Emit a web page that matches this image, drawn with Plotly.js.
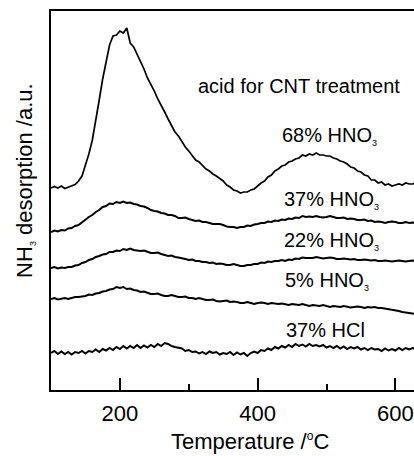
<!DOCTYPE html>
<html>
<head>
<meta charset="utf-8">
<script src="https://cdn.plot.ly/plotly-3.0.1.min.js"></script>
<style>
  html, body { margin: 0; padding: 0; background: #fff; }
  #chart { width: 414px; height: 456px; }
</style>
</head>
<body>
<div id="chart"></div>
<script>
// Temperature (°C)
const temperature = [
  100,105,110,115,120,125,130,135,140,145,
  150,155,160,165,170,175,180,185,190,195,
  200,205,210,215,220,225,230,235,240,245,
  250,255,260,265,270,275,280,285,290,295,
  300,305,310,315,320,325,330,335,340,345,
  350,355,360,365,370,375,380,385,390,395,
  400,405,410,415,420,425,430,435,440,445,
  450,455,460,465,470,475,480,485,490,495,
  500,505,510,515,520,525,530,535,540,545,
  550,555,560,565,570,575,580,585,590,595,
  600,605,610,615,620,625,630
];

// NH3 desorption signal (a.u., curves offset vertically as in the figure)
const hno3_68 = [
  202,203.5,202,204,201.5,203,204,205.5,209,214,
  225,236,250,268,290,311,330,345,354,355,
  359,357,362,347,343,336,328,321,312,306,
  299,291,285,278,271,264,258,254,248,243,
  239,235,230,228,224,221,219,216,214,211,
  209,205,203,200,199,197,198,198,200,201,
  204,207,209,213,215,219,221,224,225,228,
  229,231,232,235,234,236,235,237,235,235,
  234,234,232,231,229,228,226,223,222,219,
  218,215,214,210,210,207,208,205,206,204,
  205,206,205,207,206,206,207
];
const hno3_37 = [
  158,159.5,158.5,160,159.5,161.5,162,164,165,168,
  170,173,175,178,180,183,184,186.5,186,188,
  187,188.5,187,187.5,186,185.5,184,183.5,182,180,
  179,178.5,177,176.5,175,175,174,172,172,172.5,
  171,170,169,169.5,168,168,167,166,166,166,
  165,163.5,163,163,162,163,163,164.5,164,165.5,
  166,167,167,168.5,168,169.5,169,170.5,170,171.5,
  171,172.5,172,174,173,173.5,173,174,173,172.5,
  173,174,173,172,172,172.5,171,171.5,171,170,
  170,170.5,169,169.5,168,168.5,168,167,168,168.5,
  168,167,167,168,167,167.5,167
];
const hno3_22 = [
  122,123,121.5,122.5,122,123,123,124.5,125,127,
  128,130,131,133,134,135.5,136,138,138,139.5,
  139,141,140,141.5,140,139.5,139,139.5,138,137,
  137,137.5,136,135,134,134.5,133,132.5,132,131,
  130,130.5,129,129,128,128,127,127.5,126,126.5,
  126,125,125,126,125,124,124,125,125,126,
  126,127.5,127,128.5,128,129,129,130,129,130.5,
  130,131.5,131,132.5,132,132,132,133,132,131.5,
  132,132.5,132,131,131,131.5,131,130.5,131,130,
  130,130.5,130,129.5,130,129,129,129.5,129,128.5,
  129,129.5,129,128.5,129,129.5,129
];
const hno3_5 = [
  91,92,90.5,91.5,92,91,92,93,93,93.5,
  94,95.5,95,96.5,97,98.5,99,100.5,101,103,
  102,103,101,101.5,100,99.5,98,98.5,97,96,
  96,96.5,95,94,94,95,94,93,93,93.5,
  92,92,91,92,91,90,90,90.5,89,88.5,
  89,89.5,88,88.5,88,87,87,88,87,86,
  87,87.5,87,86,87,86.5,86,86.5,86,85,
  86,85.5,85,86,85,84,85,84.5,84,85,
  84,83,84,83.5,83,84,83,82.5,83,83.5,
  83,82,83,82.5,83,82,82,81.5,81,80,
  80,79,78,77.5,77,76.5,76
];
const hcl_37 = [
  37,39,36,38.5,36,38,35.5,38,37,39,
  36.5,39,38,40.5,38,41,39.5,42,40,43,
  41,44,41.5,44,42,45,42,44.5,42.5,45,
  43,46,44,47,46,44,43,42,41.5,39,
  40,38,38.5,36.5,38,36,38.5,37,38,35.5,
  37,36,38,35,37.5,35.5,37,34,37,38.5,
  37,40,39,41.5,40,43,41.5,44,42.5,45,
  43,46,44,45.5,43.5,46,44,45,43.5,45,
  42.5,44,42,44,41.5,43.5,41,43,41.5,43,
  40.5,42,40,42,40.5,41,39,41.5,39.5,41,
  39.5,42,40,42,40.5,42,41
];

const seriesNames = ["68% HNO3", "37% HNO3", "22% HNO3", "5% HNO3", "37% HCl"];
const seriesData = [hno3_68, hno3_37, hno3_22, hno3_5, hcl_37];
const xTickVals = [200, 400, 600];
const xTickText = ["200", "400", "600"];
const xMinorVals = [300, 500];

const FONT = "'Liberation Sans', Arial, Helvetica, sans-serif";
const SUB = (s) => '<sub><span style="font-size:9px">' + s + '</span></sub>';

const traces = seriesData.map((y, i) => ({
  x: temperature,
  y: y,
  name: seriesNames[i],
  type: 'scatter',
  mode: 'lines',
  line: { color: '#000', width: i === 0 ? 1.7 : 2.0 },
  hoverinfo: 'skip'
}));

const labelStyle = { family: FONT, size: 20, color: '#000' };
const annotations = [
  { text: 'acid for CNT treatment', x: 0.682, y: 0.802, xanchor: 'center' },
  { text: '68% HNO' + SUB('3'), x: 0.630, y: 0.670, xanchor: 'left' },
  { text: '37% HNO' + SUB('3'), x: 0.636, y: 0.501, xanchor: 'left' },
  { text: '22% HNO' + SUB('3'), x: 0.636, y: 0.393, xanchor: 'left' },
  { text: '5% HNO' + SUB('3'), x: 0.639, y: 0.288, xanchor: 'left' },
  { text: '37% HCl', x: 0.641, y: 0.158, xanchor: 'left' }
].map(a => Object.assign({ xref: 'paper', yref: 'paper', yanchor: 'middle', showarrow: false, font: labelStyle }, a));

annotations.push({
  text: 'Temperature /<sup><span style="font-size:12px">o</span></sup>C', xref: 'paper', yref: 'paper', x: 0.548, y: -0.136,
  xanchor: 'center', yanchor: 'middle', showarrow: false, font: { family: FONT, size: 22, color: '#000' }
});
annotations.push({
  text: 'NH' + SUB('3') + ' desorption /a.u.', xref: 'paper', yref: 'paper', x: -0.072, y: 0.554,
  xanchor: 'center', yanchor: 'middle', textangle: -90, showarrow: false,
  font: { family: FONT, size: 22, color: '#000' }
});

const layout = {
  width: 414,
  height: 456,
  margin: { l: 51, r: 0, t: 11, b: 66 },
  paper_bgcolor: '#fff',
  plot_bgcolor: '#fff',
  showlegend: false,
  font: { family: FONT, color: '#000' },
  xaxis: {
    range: [100, 627],
    showgrid: false,
    zeroline: false,
    showline: true,
    linecolor: '#000',
    linewidth: 2,
    mirror: true,
    ticks: 'inside',
    ticklen: 12,
    tickwidth: 2,
    tickcolor: '#000',
    tickmode: 'array',
    tickvals: xTickVals,
    ticktext: xTickText,
    tickfont: { family: FONT, size: 22, color: '#000' },
    ticklabelstandoff: 3,
    minor: { tickmode: 'array', tickvals: xMinorVals, ticks: 'inside', ticklen: 6, tickwidth: 2, tickcolor: '#000', showgrid: false }
  },
  yaxis: {
    range: [0, 379],
    showgrid: false,
    zeroline: false,
    showline: true,
    linecolor: '#000',
    linewidth: 2,
    mirror: false,
    ticks: '',
    showticklabels: false
  },
  annotations: annotations
};

Plotly.newPlot('chart', traces, layout, { staticPlot: true, displayModeBar: false });
</script>
</body>
</html>
